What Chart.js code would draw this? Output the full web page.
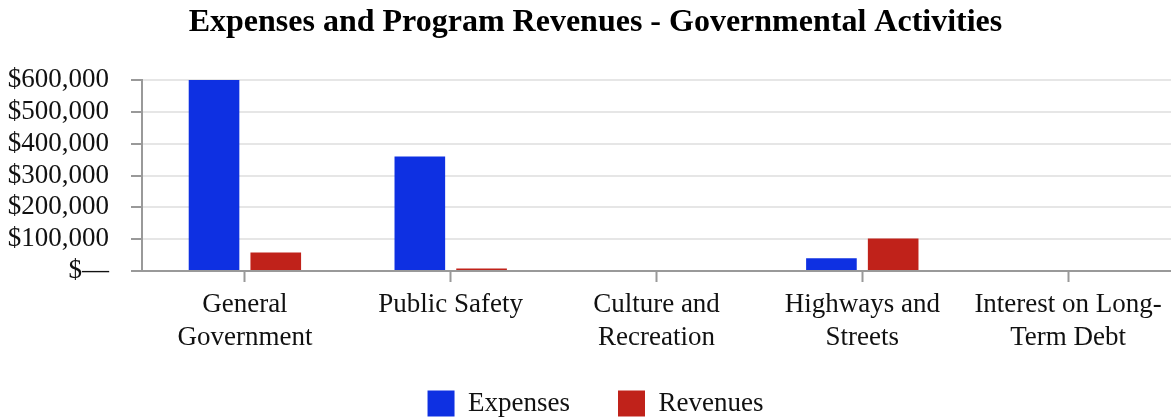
<!DOCTYPE html>
<html>
<head>
<meta charset="utf-8">
<script src="https://cdn.jsdelivr.net/npm/chart.js@4.4.1/dist/chart.umd.min.js"></script>
<style>
  html, body { margin: 0; padding: 0; background: #fff; }
  #wrap { width: 1171px; height: 417px; }
</style>
</head>
<body>
<div id="wrap"><canvas id="myChart" width="1171" height="417"></canvas></div>
<script>
var categories = [
	['General', 'Government'],
	'Public Safety',
	['Culture and', 'Recreation'],
	['Highways and', 'Streets'],
	['Interest on Long-', 'Term Debt']
];
var expenses = [600000, 360000, 0, 40000, 0];
var revenues = [58000, 8000, 0, 102000, 0];
var yTicks = [0, 100000, 200000, 300000, 400000, 500000, 600000];

var serif = '"Liberation Serif", "Times New Roman", serif';

function money(v){
	if (v === 0) return '$\u2014';
	return '$' + v.toLocaleString('en-US');
}

// title and legend sit a little right of centre in the original,
// and the legend's wide item padding would push it off the bottom
var nudge = {
	id: 'nudge',
	afterLayout: function(chart){
		chart.titleBlock.left += 20;
		chart.legend.left += 20;
		chart.legend.top -= 19;
	}
};

var ctx = document.getElementById('myChart').getContext('2d');
var chart = new Chart(ctx, {
	type: 'bar',
	data: {
		labels: categories,
		datasets: [
			{ label: 'Expenses', data: expenses, backgroundColor: '#0e30e2' },
			{ label: 'Revenues', data: revenues, backgroundColor: '#c0221a' }
		]
	},
	plugins: [nudge],
	options: {
		responsive: false,
		animation: false,
		categoryPercentage: 0.6,
		barPercentage: 0.82,
		layout: { padding: { left: 0, right: 0, top: 0, bottom: -29 } },
		plugins: {
			tooltip: { enabled: false },
			title: {
				display: true,
				text: 'Expenses and Program Revenues - Governmental Activities',
				color: '#000',
				font: { family: serif, size: 32, weight: 'bold' },
				padding: { top: 4, bottom: 37.6 }
			},
			legend: {
				position: 'bottom',
				labels: {
					color: '#111',
					font: { family: serif, size: 27 },
					boxWidth: 27,
					boxHeight: 26,
					padding: 48
				}
			}
		},
		scales: {
			x: {
				offset: true,
				afterFit: function(scale){ scale.height = 90; },
				grid: {
					offset: false,
					drawOnChartArea: false,
					tickLength: 11,
					tickColor: '#999',
					tickWidth: 2
				},
				border: { color: '#999', width: 2 },
				ticks: {
					color: '#111',
					font: { family: serif, size: 27, lineHeight: 1.24 },
					padding: 6,
					maxRotation: 0,
					autoSkip: false
				}
			},
			y: {
				min: 0,
				max: 600000,
				afterFit: function(scale){ scale.width = 142; },
				afterBuildTicks: function(scale){
					scale.ticks = yTicks.map(function(v){ return { value: v }; });
				},
				grid: {
					color: '#e6e6e6',
					lineWidth: 2,
					tickLength: 11,
					tickColor: '#999',
					tickWidth: 2
				},
				border: { color: '#999', width: 2 },
				ticks: {
					color: '#111',
					font: { family: serif, size: 27 },
					padding: 22,
					autoSkip: false,
					callback: function(v){ return money(v); }
				}
			}
		}
	}
});
</script>
</body>
</html>
